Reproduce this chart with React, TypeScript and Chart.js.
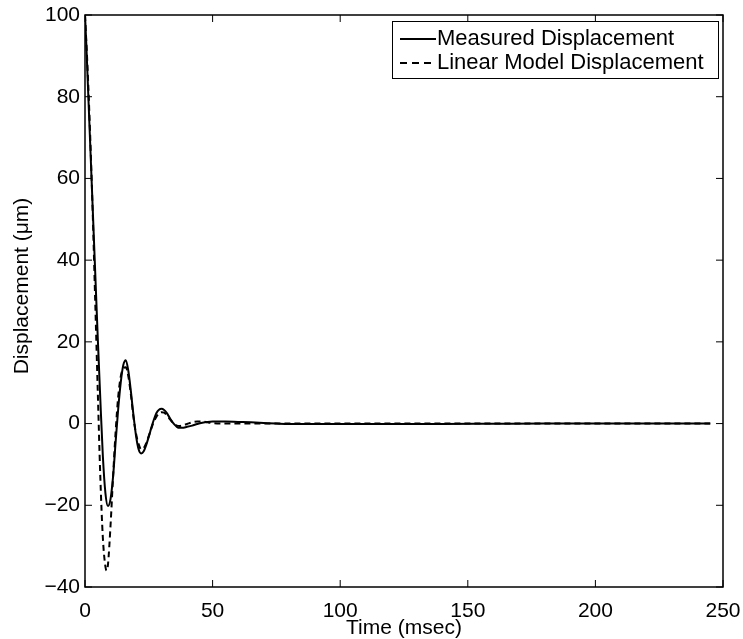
import React, { useEffect, useRef } from "react";
import { Chart, registerables } from "chart.js";

Chart.register(...registerables);

// Time axis (msec) and values (µm)
const measuredTime = [0, 0.5, 1, 2, 3, 4, 5, 6, 7, 8, 9, 10, 11, 12, 13, 14, 15, 16, 17, 18, 19, 20, 21, 22, 23, 24, 25, 26, 27, 28, 29, 30, 31, 32, 33, 34, 35, 36, 37, 38, 40, 42, 44, 46, 48, 50, 55, 60, 65, 70, 75, 80, 90, 100, 120, 140, 160, 180, 200, 220, 245];
const measuredValues = [100, 93, 85, 69, 53, 37, 21, 6, -8, -17, -20.2, -18.5, -13, -4.5, 3.5, 10, 14.3, 15.5, 12.8, 7.8, 2, -3, -6.3, -7.3, -6.8, -5.2, -3.2, -1, 1, 2.6, 3.4, 3.6, 3.3, 2.6, 1.6, 0.6, -0.2, -0.8, -1.05, -1.05, -0.8, -0.5, -0.1, 0.2, 0.4, 0.5, 0.5, 0.4, 0.3, 0.15, 0, -0.1, -0.1, -0.1, -0.1, -0.1, -0.05, 0, 0, 0, 0];

const modelTime = [0, 1, 2, 3, 4, 5, 6, 7, 8, 8.5, 9, 10, 11, 12, 13, 14, 15, 16, 17, 18, 19, 20, 21, 22, 23, 24, 25, 26, 27, 28, 29, 30, 31, 32, 33, 34, 35, 36, 37, 38, 40, 42, 44, 46, 48, 50, 55, 60, 70, 80, 100, 150, 200, 245];
const modelValues = [100, 87, 71, 52, 30, 8, -13, -28, -35, -36, -34.5, -25, -13, -2, 6.5, 11.5, 13.5, 13.8, 11.5, 7, 1.5, -2.5, -5, -6.3, -6, -4.8, -3, -1.2, 0.5, 1.7, 2.5, 2.8, 2.7, 2.1, 1.3, 0.5, -0.1, -0.5, -0.6, -0.5, -0.1, 0.3, 0.5, 0.5, 0.3, 0.1, 0, 0, 0, 0, 0, 0, 0, 0];

const seriesLabels = ["Measured Displacement", "Linear Model Displacement"];
const xTitle = "Time (msec)";
const yTitle = "Displacement (\u03bcm)";

const FONT = "'Liberation Sans', Arial, Helvetica, sans-serif";

const framePlugin = {
  id: "frame",
  afterDraw(chart: any) {
    const { ctx, chartArea } = chart;
    const { left, right, top, bottom } = chartArea;
    const xs = chart.scales.x;
    const ys = chart.scales.y;
    ctx.save();
    ctx.strokeStyle = "#000";
    ctx.lineWidth = 1.5;
    ctx.strokeRect(left, top, right - left, bottom - top);
    const tl = 7;
    ctx.beginPath();
    xs.ticks.forEach((t: any) => {
      const px = xs.getPixelForValue(t.value);
      ctx.moveTo(px, bottom);
      ctx.lineTo(px, bottom - tl);
      ctx.moveTo(px, top);
      ctx.lineTo(px, top + tl);
    });
    ys.ticks.forEach((t: any) => {
      const py = ys.getPixelForValue(t.value);
      ctx.moveTo(left, py);
      ctx.lineTo(left + tl, py);
      ctx.moveTo(right, py);
      ctx.lineTo(right - tl, py);
    });
    ctx.lineWidth = 1;
    ctx.stroke();

    // y axis title
    ctx.save();
    ctx.translate(22, 286);
    ctx.rotate(-Math.PI / 2);
    ctx.fillStyle = "#000";
    ctx.font = `21px ${FONT}`;
    ctx.textAlign = "center";
    ctx.textBaseline = "middle";
    ctx.fillText(yTitle, 0, 0);
    ctx.restore();

    // legend box
    const bx = 392, by = 21, bw = 326, bh = 57;
    ctx.fillStyle = "#fff";
    ctx.fillRect(bx, by, bw, bh);
    ctx.lineWidth = 1;
    ctx.strokeRect(bx + 0.5, by + 0.5, bw, bh);
    const rows = [39, 63];
    chart.data.datasets.forEach((ds: any, i: number) => {
      const y = rows[i];
      ctx.beginPath();
      ctx.setLineDash(i === 0 ? [] : [7, 5]);
      ctx.lineWidth = 2;
      ctx.strokeStyle = "#000";
      ctx.moveTo(400, y);
      ctx.lineTo(436, y);
      ctx.stroke();
      ctx.setLineDash([]);
      ctx.fillStyle = "#000";
      ctx.font = `22px ${FONT}`;
      ctx.textBaseline = "middle";
      ctx.textAlign = "left";
      ctx.fillText(ds.label, 437, y);
    });
    ctx.restore();
  },
};

export default function App() {
  const ref = useRef<HTMLCanvasElement>(null);
  useEffect(() => {
    if (!ref.current) return;
    const chart = new Chart(ref.current, {
      type: "line",
      data: {
        datasets: [
          {
            label: seriesLabels[0],
            data: measuredTime.map((t, i) => ({ x: t, y: measuredValues[i] })),
            borderColor: "#000",
            borderWidth: 2,
            pointRadius: 0,
            fill: false,
            cubicInterpolationMode: "monotone",
          },
          {
            label: seriesLabels[1],
            data: modelTime.map((t, i) => ({ x: t, y: modelValues[i] })),
            borderColor: "#000",
            borderWidth: 2,
            borderDash: [6, 4],
            pointRadius: 0,
            fill: false,
            cubicInterpolationMode: "monotone",
          },
        ],
      },
      options: {
        animation: false,
        responsive: false,
        layout: { padding: { top: 15, right: 20, left: 0, bottom: 0 } },
        plugins: {
          legend: { display: false },
          tooltip: { enabled: false },
        },
        scales: {
          x: {
            type: "linear",
            min: 0,
            max: 250,
            grid: { display: false, drawTicks: false },
            border: { display: false },
            ticks: {
              stepSize: 50,
              padding: 12,
              maxRotation: 0,
              color: "#000",
              font: { family: FONT, size: 21 },
            },
            title: {
              display: true,
              text: xTitle,
              color: "#000",
              font: { family: FONT, size: 21, lineHeight: 1 },
              padding: { top: 0, bottom: 0 },
            },
            afterFit: (s: any) => {
              s.height = 52;
              s.paddingLeft = 0;
              s.paddingRight = 0;
            },
          },
          y: {
            min: -40,
            max: 100,
            grid: { display: false, drawTicks: false },
            border: { display: false },
            ticks: {
              stepSize: 20,
              padding: 5,
              color: "#000",
              font: { family: FONT, size: 21 },
              callback: (v: any) => (Number(v) < 0 ? "\u2212" + Math.abs(Number(v)) : String(v)),
            },
            title: { display: false, text: yTitle },
            afterFit: (s: any) => {
              s.width = 85;
              s.paddingTop = 0;
              s.paddingBottom = 0;
            },
          },
        },
      },
      plugins: [framePlugin],
    });
    return () => chart.destroy();
  }, []);
  return (
    <div style={{ position: "absolute", left: 0, top: 0, width: 743, height: 639, background: "#fff" }}>
      <canvas ref={ref} width={743} height={639} />
    </div>
  );
}
